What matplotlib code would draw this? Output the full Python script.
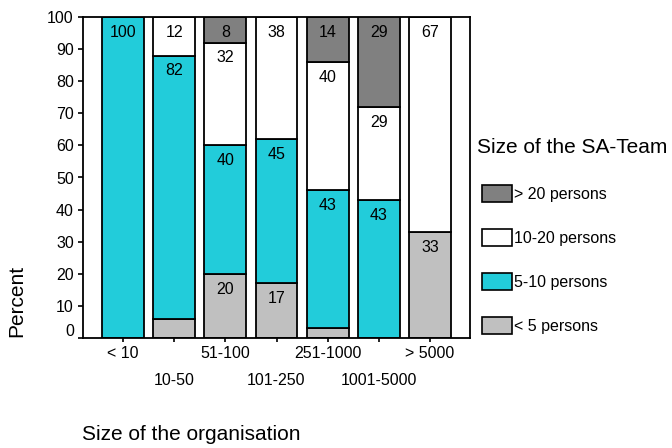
import matplotlib
matplotlib.use("Agg")
import matplotlib.pyplot as plt
import numpy as np
from matplotlib.patches import Patch
from matplotlib.transforms import ScaledTranslation

plt.rcParams['font.family'] = ['Liberation Sans', 'DejaVu Sans']

categories = ["< 10", "10-50", "51-100", "101-250", "251-1000", "1001-5000", "> 5000"]
lt5 = [0, 6, 20, 17, 3, 0, 33]
p5_10 = [100, 82, 40, 45, 43, 43, 0]
p10_20 = [0, 12, 32, 38, 40, 29, 67]
gt20 = [0, 0, 8, 0, 14, 29, 0]

series = [
    ("< 5 persons", lt5, "#c0c0c0"),
    ("5-10 persons", p5_10, "#22ccda"),
    ("10-20 persons", p10_20, "#ffffff"),
    ("> 20 persons", gt20, "#808080"),
]

W, H = 672, 448
fig = plt.figure(figsize=(6.72, 4.48), dpi=100)
ax = fig.add_axes([83/W, 1-338/H, (470-83)/W, (338-17)/H])

FS = 11.5
x = np.arange(len(categories))
bottom = np.zeros(len(categories))
for name, vals, col in series:
    vals = np.array(vals, dtype=float)
    ax.bar(x, vals, bottom=bottom, width=0.82, color=col, edgecolor='black', linewidth=1.3)
    for xi, b, v in zip(x, bottom, vals):
        if v >= 8:
            top = min(b + v, 100)
            ax.annotate(f"{int(v)}", (xi, top), xytext=(0, -11), textcoords='offset points',
                        ha='center', va='center', fontsize=FS)
    bottom += vals

ax.set_xlim(-0.78, 6.78)
ax.set_ylim(0, 100)
ax.set_yticks(range(0, 101, 10))
ax.tick_params(axis='y', labelsize=FS, length=3.6, width=1.2, direction='out', pad=3)
lbl0 = ax.get_yticklabels()[0]
lbl0.set_transform(lbl0.get_transform() + ScaledTranslation(0, 6/72, fig.dpi_scale_trans))

ax.set_xticks(x[::2])
ax.set_xticklabels(categories[::2])
ax.set_xticks(x[1::2], minor=True)
ax.set_xticklabels(categories[1::2], minor=True)
ax.tick_params(axis='x', which='major', labelsize=FS, length=3, width=1.2, pad=3)
ax.tick_params(axis='x', which='minor', labelsize=FS, length=3, width=1.2, pad=22)
for s in ax.spines.values():
    s.set_linewidth(1.3)

fig.text(17/W, 1-301/H, "Percent", rotation=90, ha='center', va='center', fontsize=15)
fig.text(82/W, 1-440/H, "Size of the organisation", ha='left', va='baseline', fontsize=15)
fig.text(477/W, 1-153/H, "Size of the SA-Team", ha='left', va='baseline', fontsize=15)

handles = [Patch(facecolor=col, edgecolor='black', linewidth=1.2, label=name) for name, _, col in series][::-1]
fig.legend(handles=handles, loc='upper left', bbox_to_anchor=(482/W, 1-185/H),
           frameon=False, fontsize=FS, handlelength=1.875, handleheight=1.25,
           labelspacing=1.7, handletextpad=0.12, borderpad=0, borderaxespad=0)

fig.savefig("out.png", dpi=100)
